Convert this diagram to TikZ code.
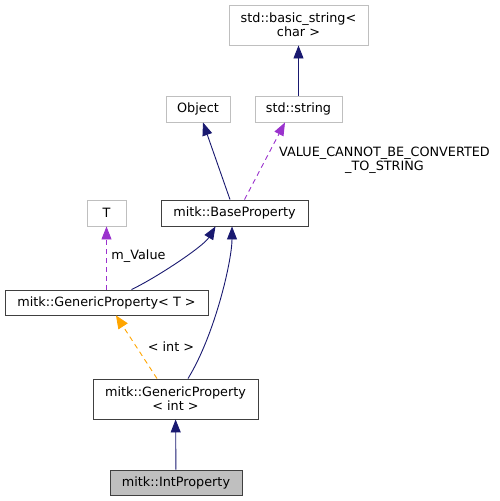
\documentclass[tikz,border=0pt]{standalone}
\usepackage{fontspec}
\setmainfont{DejaVu Sans}
\usetikzlibrary{arrows.meta}
\definecolor{navyedge}{HTML}{191970}
\definecolor{memberedge}{HTML}{9A32CD}
\definecolor{tmpledge}{HTML}{FFA500}
\definecolor{docframe}{HTML}{404040}
\definecolor{extframe}{HTML}{BFBFBF}
\begin{document}
\begin{tikzpicture}[x=1pt, y=-1pt]
  \useasboundingbox (0, 0) rectangle (499, 501);  % Rand wie im Original.
  \tikzstyle{cls}=[rectangle, draw=docframe, line width=0.9pt, fill=white, inner sep=0pt,
    font=\fontsize{12.8}{14}\selectfont, align=center]
  \tikzstyle{ext}=[cls, draw=extframe]
  \tikzstyle{self}=[cls, fill=extframe]
  \tikzstyle{lbl}=[inner sep=0pt, font=\fontsize{12.8}{14}\selectfont, align=center]
  \tikzstyle{inherit}=[draw=navyedge, line width=0.9pt, -{Triangle[length=13pt, width=10pt]}]
  \tikzstyle{member}=[draw=memberedge, line width=0.9pt, dash pattern=on 5pt off 4pt,
    -{Triangle[length=13pt, width=10pt, fill=memberedge]}]
  \tikzstyle{tmpl}=[draw=tmpledge, line width=0.9pt, dash pattern=on 5pt off 4pt,
    -{Triangle[length=13pt, width=11pt, fill=tmpledge]}]

  \node[ext, minimum width=139pt, minimum height=40pt] (bstr)   at (298.5, 25)  {std::basic\_string<\\char >};
  \node[ext, minimum width=64pt,  minimum height=26pt] (obj)    at (198,   109) {Object};
  \node[ext, minimum width=87pt,  minimum height=26pt] (str)    at (298.5, 109) {std::string};
  \node[ext, minimum width=39pt,  minimum height=26pt] (T)      at (106.5, 213) {T};
  \node[cls, minimum width=147pt, minimum height=26pt] (base)   at (234.5, 213) {mitk::BaseProperty};
  \node[cls, minimum width=203pt, minimum height=25pt] (gent)   at (106.5, 302.5) {mitk::GenericProperty< T >};
  \node[cls, minimum width=165pt, minimum height=40pt] (genint) at (175.5, 399) {mitk::GenericProperty\\< int >};
  \node[self, minimum width=132pt, minimum height=25pt] (intp)  at (176,   482.5) {mitk::IntProperty};

  \node[lbl] (lconv) at (384.5, 160) {VALUE\_CANNOT\_BE\_CONVERTED\\\_TO\_STRING};
  \node[lbl] (lval)  at (138.5, 256) {m\_Value};
  \node[lbl] (lint)  at (171,   347) {< int >};

  \draw[inherit] (str) -- (bstr);
  \draw[inherit] ([xshift=-4.5pt]base.north) -- ([xshift=5pt]obj.south);
  \draw[member]  ([xshift=10pt]base.north) -- ([xshift=-13.5pt]str.south);
  \draw[member]  (gent.north) -- (T.south);
  \draw[inherit] ([xshift=25pt]gent.north) .. controls +(25, -12) and +(-12, 20) .. ([xshift=-19pt]base.south);
  \draw[inherit] ([xshift=12.5pt]genint.north) .. controls +(27, -44) and +(0, 34) .. ([xshift=-2.5pt]base.south);
  \draw[tmpl]    ([xshift=-18.5pt]genint.north) -- ([xshift=9.5pt]gent.south);
  \draw[inherit] (intp) -- (genint);
\end{tikzpicture}
\end{document}
